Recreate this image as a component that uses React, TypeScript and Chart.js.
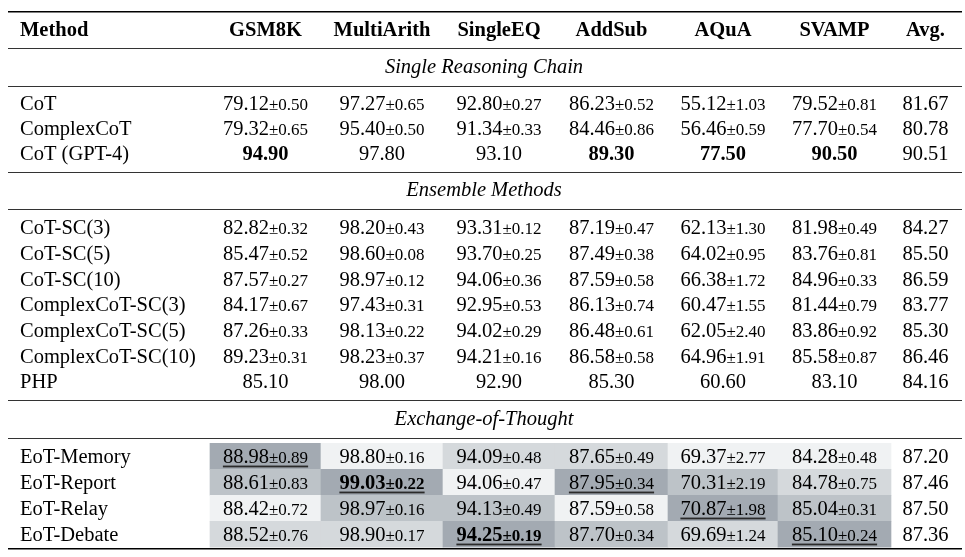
import React, { useEffect, useRef } from "react";
import { Chart, registerables } from "chart.js";

Chart.register(...registerables);

// ---------------- DATA ----------------
const methodHeader = "Method";
const datasetNames = ["GSM8K", "MultiArith", "SingleEQ", "AddSub", "AQuA", "SVAMP"];
const avgHeader = "Avg.";
const sectionTitles = ["Single Reasoning Chain", "Ensemble Methods", "Exchange-of-Thought"];

const singleMethods = ["CoT", "ComplexCoT", "CoT (GPT-4)"];
const singleMeans = [
  [79.12, 97.27, 92.8, 86.23, 55.12, 79.52],
  [79.32, 95.4, 91.34, 84.46, 56.46, 77.7],
  [94.9, 97.8, 93.1, 89.3, 77.5, 90.5],
];
const singleStds = [
  [0.5, 0.65, 0.27, 0.52, 1.03, 0.81],
  [0.65, 0.5, 0.33, 0.86, 0.59, 0.54],
  [null, null, null, null, null, null],
];
const singleAvg = [81.67, 80.78, 90.51];

const ensembleMethods = [
  "CoT-SC(3)",
  "CoT-SC(5)",
  "CoT-SC(10)",
  "ComplexCoT-SC(3)",
  "ComplexCoT-SC(5)",
  "ComplexCoT-SC(10)",
  "PHP",
];
const ensembleMeans = [
  [82.82, 98.2, 93.31, 87.19, 62.13, 81.98],
  [85.47, 98.6, 93.7, 87.49, 64.02, 83.76],
  [87.57, 98.97, 94.06, 87.59, 66.38, 84.96],
  [84.17, 97.43, 92.95, 86.13, 60.47, 81.44],
  [87.26, 98.13, 94.02, 86.48, 62.05, 83.86],
  [89.23, 98.23, 94.21, 86.58, 64.96, 85.58],
  [85.1, 98.0, 92.9, 85.3, 60.6, 83.1],
];
const ensembleStds = [
  [0.32, 0.43, 0.12, 0.47, 1.3, 0.49],
  [0.52, 0.08, 0.25, 0.38, 0.95, 0.81],
  [0.27, 0.12, 0.36, 0.58, 1.72, 0.33],
  [0.67, 0.31, 0.53, 0.74, 1.55, 0.79],
  [0.33, 0.22, 0.29, 0.61, 2.4, 0.92],
  [0.31, 0.37, 0.16, 0.58, 1.91, 0.87],
  [null, null, null, null, null, null],
];
const ensembleAvg = [84.27, 85.5, 86.59, 83.77, 85.3, 86.46, 84.16];

const eotMethods = ["EoT-Memory", "EoT-Report", "EoT-Relay", "EoT-Debate"];
const eotMeans = [
  [88.98, 98.8, 94.09, 87.65, 69.37, 84.28],
  [88.61, 99.03, 94.06, 87.95, 70.31, 84.78],
  [88.42, 98.97, 94.13, 87.59, 70.87, 85.04],
  [88.52, 98.9, 94.25, 87.7, 69.69, 85.1],
];
const eotStds = [
  [0.89, 0.16, 0.48, 0.49, 2.77, 0.48],
  [0.83, 0.22, 0.47, 0.34, 2.19, 0.75],
  [0.72, 0.16, 0.49, 0.58, 1.98, 0.31],
  [0.76, 0.17, 0.19, 0.34, 1.24, 0.24],
];
const eotAvg = [87.2, 87.46, 87.5, 87.36];

// ---------------- LAYOUT / STYLE ----------------
const W = 965;
const H = 557;
const FONT = '"Liberation Serif", "Times New Roman", serif';
const TABLE_L = 8;
const TABLE_R = 962;
const METHOD_X = 20;
const COL_EDGES = [210, 321, 443, 555, 668, 778, 891, TABLE_R];
const AVG_CENTER = 925.5;
const TOP_RULE = 11.75;
const HEADER_H = 36.5;
const TITLE_H = 37.5;
const SECTION_LAYOUT = [
  { rowH: 25, padTop: 18, padBottom: 18 },
  { rowH: 25.67, padTop: 18.5, padBottom: 18.5 },
  { rowH: 26, padTop: 18.5, padBottom: 14.5 },
];
const SHADES = ["#a3aab2", "#bdc3c8", "#d5d9dc", "#f0f2f3"];
const MAIN_SIZE = 20.5;
const SMALL_SIZE = 17;
const BASE_OFF = 6.5;

type Sec = {
  title: string;
  names: string[];
  means: number[][];
  stds: (number | null)[][];
  avg: number[];
  shaded: boolean;
};

const sections: Sec[] = [
  { title: sectionTitles[0], names: singleMethods, means: singleMeans, stds: singleStds, avg: singleAvg, shaded: false },
  { title: sectionTitles[1], names: ensembleMethods, means: ensembleMeans, stds: ensembleStds, avg: ensembleAvg, shaded: false },
  { title: sectionTitles[2], names: eotMethods, means: eotMeans, stds: eotStds, avg: eotAvg, shaded: true },
];

// compute vertical layout
function buildLayout() {
  const rules: { y: number; w: number }[] = [{ y: TOP_RULE, w: 1.5 }];
  let y = TOP_RULE;
  const headerY = y + HEADER_H / 2 - 0.7;
  y += HEADER_H;
  rules.push({ y, w: 1 });
  const titleY: number[] = [];
  const rowY: number[][] = [];
  sections.forEach((s, si) => {
    const L = SECTION_LAYOUT[si];
    titleY.push(y + TITLE_H / 2 - 0.7);
    y += TITLE_H;
    rules.push({ y, w: 1 });
    const ys: number[] = [];
    const c = y + L.padTop;
    s.names.forEach((_, i) => {
      ys.push(c + i * L.rowH);
    });
    rowY.push(ys);
    y = ys[ys.length - 1] + L.padBottom;
    rules.push({ y, w: si === sections.length - 1 ? 1.5 : 1 });
  });
  return { rules, headerY, titleY, rowY };
}
const LAYOUT = buildLayout();

const colMax = datasetNames.map((_, j) =>
  Math.max(...sections.flatMap((s) => s.means.map((r) => r[j])))
);

function rankInSection(s: Sec, i: number, j: number) {
  const v = s.means[i][j];
  return s.means.filter((r) => r[j] > v).length;
}

function colCenter(j: number) {
  return (COL_EDGES[j] + COL_EDGES[j + 1]) / 2;
}

// shaded cells as floating bars
const eotIdx = 2;
const cellData: { x: [number, number]; y: number }[] = [];
const cellColors: string[] = [];
sections[eotIdx].means.forEach((row, i) => {
  row.forEach((_, j) => {
    cellData.push({ x: [COL_EDGES[j], COL_EDGES[j + 1]], y: LAYOUT.rowY[eotIdx][i] });
    cellColors.push(SHADES[rankInSection(sections[eotIdx], i, j)]);
  });
});

function drawValue(
  ctx: CanvasRenderingContext2D,
  cx: number,
  base: number,
  mean: number,
  std: number | null,
  bold: boolean,
  underline: boolean
) {
  const main = mean.toFixed(2);
  const small = std == null ? "" : "\u00b1" + std.toFixed(2);
  const f1 = `${bold ? "bold " : ""}${MAIN_SIZE}px ${FONT}`;
  const f2 = `${bold ? "bold " : ""}${SMALL_SIZE}px ${FONT}`;
  ctx.font = f1;
  const w1 = ctx.measureText(main).width;
  let w2 = 0;
  if (small) {
    ctx.font = f2;
    w2 = ctx.measureText(small).width;
  }
  const x0 = cx - (w1 + w2) / 2;
  ctx.textAlign = "left";
  ctx.textBaseline = "alphabetic";
  ctx.fillStyle = "#000";
  ctx.font = f1;
  ctx.fillText(main, x0, base);
  if (small) {
    ctx.font = f2;
    ctx.fillText(small, x0 + w1, base);
  }
  if (underline) {
    ctx.fillStyle = "#2a2a2a";
    ctx.fillRect(x0, base + 2.8, w1 + w2, 1.8);
    ctx.fillStyle = "#000";
  }
}

const tablePlugin = {
  id: "tableText",
  afterDatasetsDraw(chart: any) {
    const ctx: CanvasRenderingContext2D = chart.ctx;
    const xs = chart.scales.x;
    const ys = chart.scales.y;
    const px = (v: number) => xs.getPixelForValue(v);
    const py = (v: number) => ys.getPixelForValue(v);
    ctx.save();

    // rules
    LAYOUT.rules.forEach((r) => {
      ctx.beginPath();
      ctx.strokeStyle = r.w > 1 ? "#000" : "#333";
      ctx.lineWidth = r.w;
      const yy = r.w > 1 ? py(r.y) : Math.round(py(r.y)) + 0.5;
      ctx.moveTo(px(TABLE_L), yy);
      ctx.lineTo(px(TABLE_R), yy);
      ctx.stroke();
    });

    // header
    ctx.fillStyle = "#000";
    ctx.textBaseline = "alphabetic";
    ctx.font = `bold ${MAIN_SIZE}px ${FONT}`;
    const hb = py(LAYOUT.headerY) + BASE_OFF;
    ctx.textAlign = "left";
    ctx.fillText(methodHeader, px(METHOD_X), hb);
    ctx.textAlign = "center";
    datasetNames.forEach((n, j) => ctx.fillText(n, px(colCenter(j)), hb));
    ctx.fillText(avgHeader, px(AVG_CENTER), hb);

    sections.forEach((s, si) => {
      // title
      ctx.font = `italic ${MAIN_SIZE}px ${FONT}`;
      ctx.textAlign = "center";
      ctx.fillStyle = "#000";
      ctx.fillText(s.title, px((TABLE_L + TABLE_R) / 2 - 1), py(LAYOUT.titleY[si]) + BASE_OFF);
      s.names.forEach((name, i) => {
        const base = py(LAYOUT.rowY[si][i]) + BASE_OFF;
        ctx.font = `${MAIN_SIZE}px ${FONT}`;
        ctx.textAlign = "left";
        ctx.fillStyle = "#000";
        ctx.fillText(name, px(METHOD_X), base);
        s.means[i].forEach((m, j) => {
          const bold = m === colMax[j];
          const underline = s.shaded && rankInSection(s, i, j) === 0;
          drawValue(ctx, px(colCenter(j)), base, m, s.stds[i][j], bold, underline);
        });
        ctx.font = `${MAIN_SIZE}px ${FONT}`;
        ctx.textAlign = "center";
        ctx.fillStyle = "#000";
        ctx.fillText(s.avg[i].toFixed(2), px(AVG_CENTER), base);
      });
    });
    ctx.restore();
  },
};

export default function App() {
  const ref = useRef<HTMLCanvasElement | null>(null);
  useEffect(() => {
    if (!ref.current) return;
    const chart = new Chart(ref.current, {
      type: "bar",
      data: {
        datasets: [
          {
            data: cellData as any,
            backgroundColor: cellColors,
            borderWidth: 0,
            barPercentage: 1,
            categoryPercentage: 1,
          },
        ],
      },
      options: {
        indexAxis: "y",
        responsive: false,
        animation: false,
        events: [],
        layout: { padding: 0 },
        plugins: { legend: { display: false }, tooltip: { enabled: false } },
        scales: {
          x: { type: "linear", min: 0, max: W, display: false, offset: false, grid: { display: false } },
          y: {
            type: "linear",
            min: 0,
            max: H,
            reverse: true,
            display: false,
            offset: false,
            grid: { display: false },
            ticks: { maxTicksLimit: 3 },
          },
        },
      } as any,
      plugins: [tablePlugin],
    });
    return () => chart.destroy();
  }, []);
  return (
    <div style={{ position: "fixed", left: 0, top: 0, width: W, height: H, background: "#fff" }}>
      <canvas ref={ref} width={W} height={H} style={{ display: "block" }} />
    </div>
  );
}
